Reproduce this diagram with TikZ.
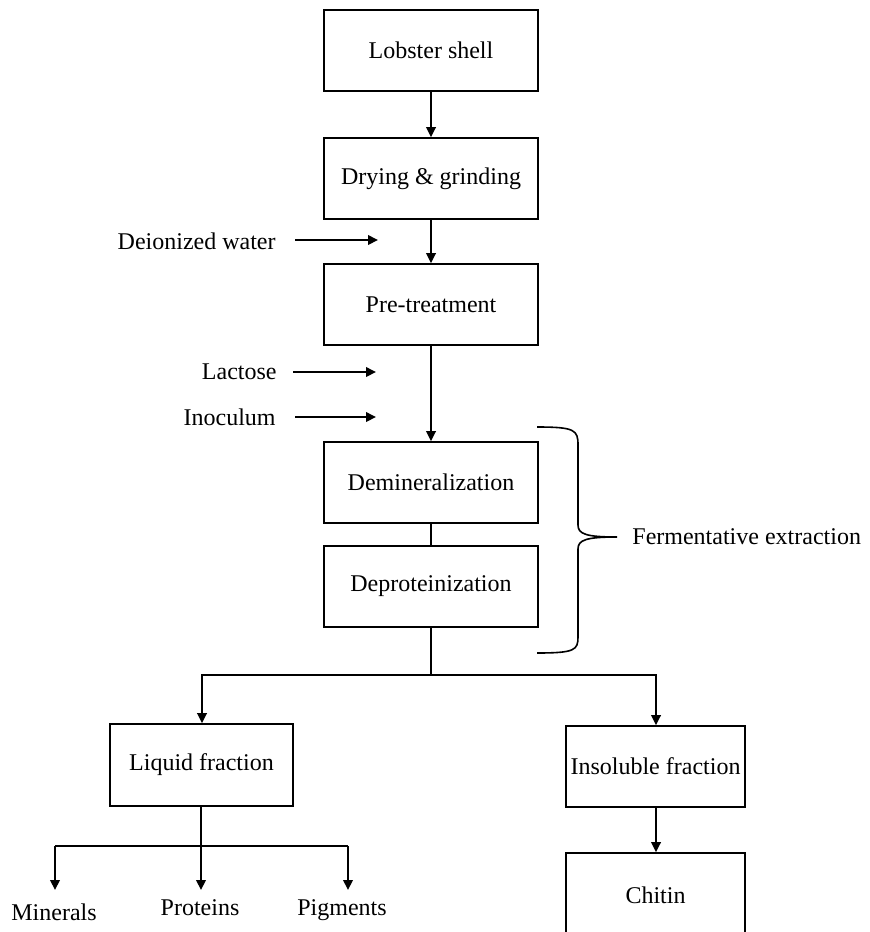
\documentclass[tikz,border=0pt]{standalone}
\usepackage{fontspec}
\setmainfont{Liberation Serif}
\usetikzlibrary{arrows.meta}
\begin{document}
\begin{tikzpicture}[x=0.5pt,y=-0.5pt,
  box/.style={draw, line width=0.8pt, minimum height=40.5pt, inner sep=0pt, font=\fontsize{12}{14}\selectfont},
  mainbox/.style={box, minimum width=107pt},
  lbl/.style={inner sep=0pt, font=\fontsize{12}{14}\selectfont},
  arr/.style={line width=0.8pt, -{Triangle[length=5pt,width=4.8pt]}},
  ln/.style={line width=0.8pt}]
\useasboundingbox (0,0) rectangle (869,932);
\clip (0,0) rectangle (869,932);
% main column
\node[mainbox] (lob) at (431,50.5) {Lobster shell};
\node[mainbox] (dry) at (431,178.5) {Drying \& grinding};
\node[mainbox] (pre) at (431,304.5) {Pre-treatment};
\node[mainbox] (dem) at (431,482.5) {Demineralization};
\node[mainbox] (dep) at (431,586.5) {Deproteinization};
\node[box, minimum width=91.5pt, minimum height=41pt] (liq) at (201.5,765) {Liquid fraction};
\node[box, minimum width=89.5pt] (ins) at (655.5,766.5) {Insoluble fraction};
\node[box, minimum width=89.5pt, minimum height=42pt] (chi) at (655.5,895) {Chitin};
% inputs
\node[lbl, anchor=east] (dw) at (276,241) {Deionized water};
\node[lbl, anchor=east] (lac) at (277,372) {Lactose};
\node[lbl, anchor=east] (ino) at (276,417) {Inoculum};
\coordinate (dwe) at (378,240);
\coordinate (lace) at (376,372);
\coordinate (inoe) at (376,417);
\draw[arr] ([xshift=9.5pt]dw.east |- dwe) -- (dwe);
\draw[arr] ([xshift=8pt]lac.east |- lace) -- (lace);
\draw[arr] ([xshift=9.5pt]ino.east |- inoe) -- (inoe);
% main arrows
\draw[arr] (lob) -- (dry);
\draw[arr] (dry) -- (pre);
\draw[arr] (pre) -- (dem);
\draw[ln] (dem) -- (dep);
% split
\coordinate (j) at (431,675);
\coordinate (jl) at (202,675);
\coordinate (jr) at (656,675);
\draw[ln] (dep.south) -- (j);
\draw[arr] (j) -- (jl) -- (liq.north -| jl);
\draw[arr] (j) -- (jr) -- (ins.north -| jr);
\draw[arr] (ins.south -| jr) -- (chi.north -| jr);
% liquid fraction products
\coordinate (lj) at (201,846);
\coordinate (mj) at (55,846);
\coordinate (pj) at (348,846);
\node[lbl] (min) at (54,912) {Minerals};
\node[lbl] (pro) at (200,908) {Proteins};
\node[lbl] (pig) at (342,910) {Pigments};
\coordinate (mt) at (55,890);
\coordinate (prt) at (201,890);
\coordinate (pgt) at (348,890);
\draw[ln] (liq.south -| lj) -- (lj);
\draw[ln] (mj) -- (pj);
\draw[arr] (lj) -- (prt);
\draw[arr] (mj) -- (mt);
\draw[arr] (pj) -- (pgt);
% brace
\draw[ln] (537,427) .. controls (575,427) and (578,430) .. (578,445) -- (578,525)
  .. controls (578,534) and (586,537) .. (617,537)
  .. controls (586,537) and (578,540) .. (578,549) -- (578,637)
  .. controls (578,650) and (575,653) .. (537,653);
\node[lbl, anchor=west] (fe) at (632,537) {Fermentative extraction};
\end{tikzpicture}
\end{document}
